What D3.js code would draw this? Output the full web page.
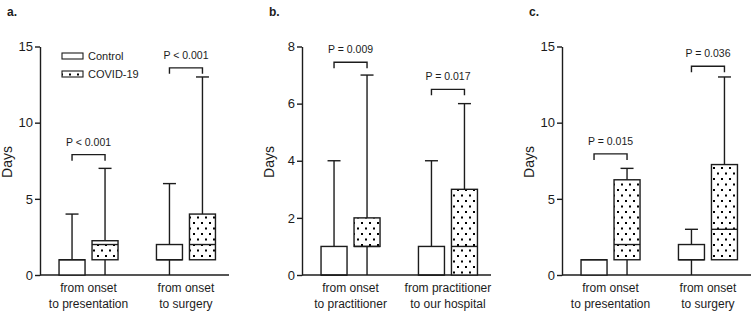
<!DOCTYPE html>
<html>
<head>
<meta charset="utf-8">
<script src="https://cdn.jsdelivr.net/npm/d3@7/dist/d3.min.js"></script>
<style>
  body { margin: 0; background: #fff; }
  svg { display: block; font-family: "Liberation Sans", Arial, Helvetica, sans-serif; }
</style>
</head>
<body>
<svg id="chart" width="756" height="316"></svg>
<script>
// ---------- data ----------
const seriesNames = ["Control", "COVID-19"];
const panelLabels = ["a.", "b.", "c."];

const categoriesA = [["from onset", "to presentation"], ["from onset", "to surgery"]];
const categoriesB = [["from onset", "to practitioner"], ["from practitioner", "to our hospital"]];
const categoriesC = [["from onset", "to presentation"], ["from onset", "to surgery"]];

const yTicksA = [0, 5, 10, 15];
const yTicksB = [0, 2, 4, 6, 8];
const yTicksC = [0, 5, 10, 15];

// [min, q1, median, q3, max] per category
const controlA = [[0, 0, 1, 1, 4], [0, 1, 1, 2, 6]];
const covidA   = [[0, 1, 2, 2.25, 7], [1, 1, 2, 4, 13]];
const controlB = [[0, 0, 0, 1, 4], [0, 0, 0, 1, 4]];
const covidB   = [[0, 1, 1, 2, 7], [0, 0, 1, 3, 6]];
const controlC = [[0, 0, 1, 1, 1], [0, 1, 1, 2, 3]];
const covidC   = [[0, 1, 2, 6.25, 7], [1, 1, 3, 7.25, 13]];

const pTextA = ["P < 0.001", "P < 0.001"];
const pTextB = ["P = 0.009", "P = 0.017"];
const pTextC = ["P = 0.015", "P = 0.036"];
const pLevelA = [7.9, 13.6];
const pLevelB = [7.45, 6.5];
const pLevelC = [7.95, 13.7];

// ---------- drawing ----------
const svg = d3.select("#chart");
const ink = "#1c1c1c";
const sw = 1.4;

const defs = svg.append("defs");
const pat = defs.append("pattern")
  .attr("id", "dots").attr("patternUnits", "userSpaceOnUse")
  .attr("width", 8).attr("height", 11);
pat.append("rect").attr("width", 8).attr("height", 11).attr("fill", "#fff");
pat.append("rect").attr("x", 1).attr("y", 2).attr("width", 2).attr("height", 2).attr("fill", "#000");
pat.append("rect").attr("x", 5).attr("y", 7.5).attr("width", 2).attr("height", 2).attr("fill", "#000");

const panels = [
  { label: panelLabels[0], cats: categoriesA, ticks: yTicksA, series: [controlA, covidA], pText: pTextA, pLevel: pLevelA, x0: 40, legend: true },
  { label: panelLabels[1], cats: categoriesB, ticks: yTicksB, series: [controlB, covidB], pText: pTextB, pLevel: pLevelB, x0: 302, legend: false },
  { label: panelLabels[2], cats: categoriesC, ticks: yTicksC, series: [controlC, covidC], pText: pTextC, pLevel: pLevelC, x0: 562, legend: false }
];

const yBottom = 275, yTop = 46.5, plotW = 189, boxW = 26, capW = 13;

panels.forEach(p => {
  const g = svg.append("g");
  const yMax = d3.max(p.ticks);
  const y = d3.scaleLinear().domain([0, yMax]).range([yBottom, yTop]);
  const x = d3.scalePoint().domain(d3.range(p.cats.length)).range([p.x0, p.x0 + plotW]).padding(0.47).align(0.53);
  const xs = d3.scaleBand().domain(seriesNames).range([-33, 33]);

  // panel label
  g.append("text").attr("x", p.x0 - 33).attr("y", 16)
    .attr("font-size", 12).attr("font-weight", "bold").attr("fill", ink).text(p.label);

  // y axis
  const yAxis = g.append("g").attr("transform", `translate(${p.x0},0)`)
    .call(d3.axisLeft(y).tickValues(p.ticks).tickSize(5).tickPadding(2).tickSizeOuter(0));
  yAxis.selectAll("path,line").attr("stroke", ink).attr("stroke-width", sw);
  yAxis.selectAll("text").attr("font-size", 13).attr("fill", ink).attr("font-family", "Liberation Sans, Arial, sans-serif");

  // x axis baseline
  const xAxis = g.append("g").attr("transform", `translate(0,${yBottom})`)
    .call(d3.axisBottom(x).tickSize(0).tickFormat(""));
  xAxis.select("path").attr("stroke", ink).attr("stroke-width", sw).attr("d", `M${p.x0},0H${p.x0 + plotW}`);

  // category labels
  p.cats.forEach((lines, i) => {
    lines.forEach((t, j) => {
      g.append("text").attr("x", x(i)).attr("y", 292 + j * 16)
        .attr("text-anchor", "middle").attr("font-size", 12).attr("fill", ink).text(t);
    });
  });

  // y label
  g.append("text").attr("transform", `translate(${p.x0 - 28},${162}) rotate(-90)`)
    .attr("text-anchor", "middle").attr("font-size", 14).attr("fill", ink).text("Days");

  // boxes
  p.series.forEach((sdata, si) => {
    const name = seriesNames[si];
    sdata.forEach((v, ci) => {
      const cx = x(ci) + xs(name) + xs.bandwidth() / 2;
      const [mn, q1, md, q3, mx] = v;
      const bg = g.append("g").attr("stroke", ink).attr("stroke-width", sw);
      if (mx > q3) {
        bg.append("line").attr("x1", cx).attr("x2", cx).attr("y1", y(q3)).attr("y2", y(mx));
        bg.append("line").attr("x1", cx - capW / 2).attr("x2", cx + capW / 2).attr("y1", y(mx)).attr("y2", y(mx));
      }
      if (mn < q1) {
        bg.append("line").attr("x1", cx).attr("x2", cx).attr("y1", y(q1)).attr("y2", y(mn));
      }
      bg.append("rect").attr("x", cx - boxW / 2).attr("width", boxW)
        .attr("y", y(q3)).attr("height", Math.max(0.01, y(q1) - y(q3)))
        .attr("fill", si === 0 ? "#fff" : "url(#dots)");
      bg.append("line").attr("x1", cx - boxW / 2).attr("x2", cx + boxW / 2).attr("y1", y(md)).attr("y2", y(md));
    });
  });

  // p-value brackets
  p.pText.forEach((t, ci) => {
    const xa = x(ci) + xs(seriesNames[0]) + xs.bandwidth() / 2;
    const xb = x(ci) + xs(seriesNames[1]) + xs.bandwidth() / 2;
    const yy = y(p.pLevel[ci]);
    g.append("path").attr("d", `M${xa},${yy + 6}V${yy}H${xb}V${yy + 6}`)
      .attr("fill", "none").attr("stroke", ink).attr("stroke-width", sw);
    g.append("text").attr("x", (xa + xb) / 2).attr("y", yy - 9)
      .attr("text-anchor", "middle").attr("font-size", 10.5).attr("fill", ink).text(t);
  });

  // legend
  if (p.legend) {
    seriesNames.forEach((n, i) => {
      const ly = 53 + i * 18;
      g.append("rect").attr("x", 62).attr("y", ly).attr("width", 21).attr("height", 6)
        .attr("fill", i === 0 ? "#fff" : "url(#dots)").attr("stroke", ink).attr("stroke-width", 1.1);
      g.append("text").attr("x", 88).attr("y", ly + 7).attr("font-size", 11).attr("fill", ink).text(n);
    });
  }
});
</script>
</body>
</html>
